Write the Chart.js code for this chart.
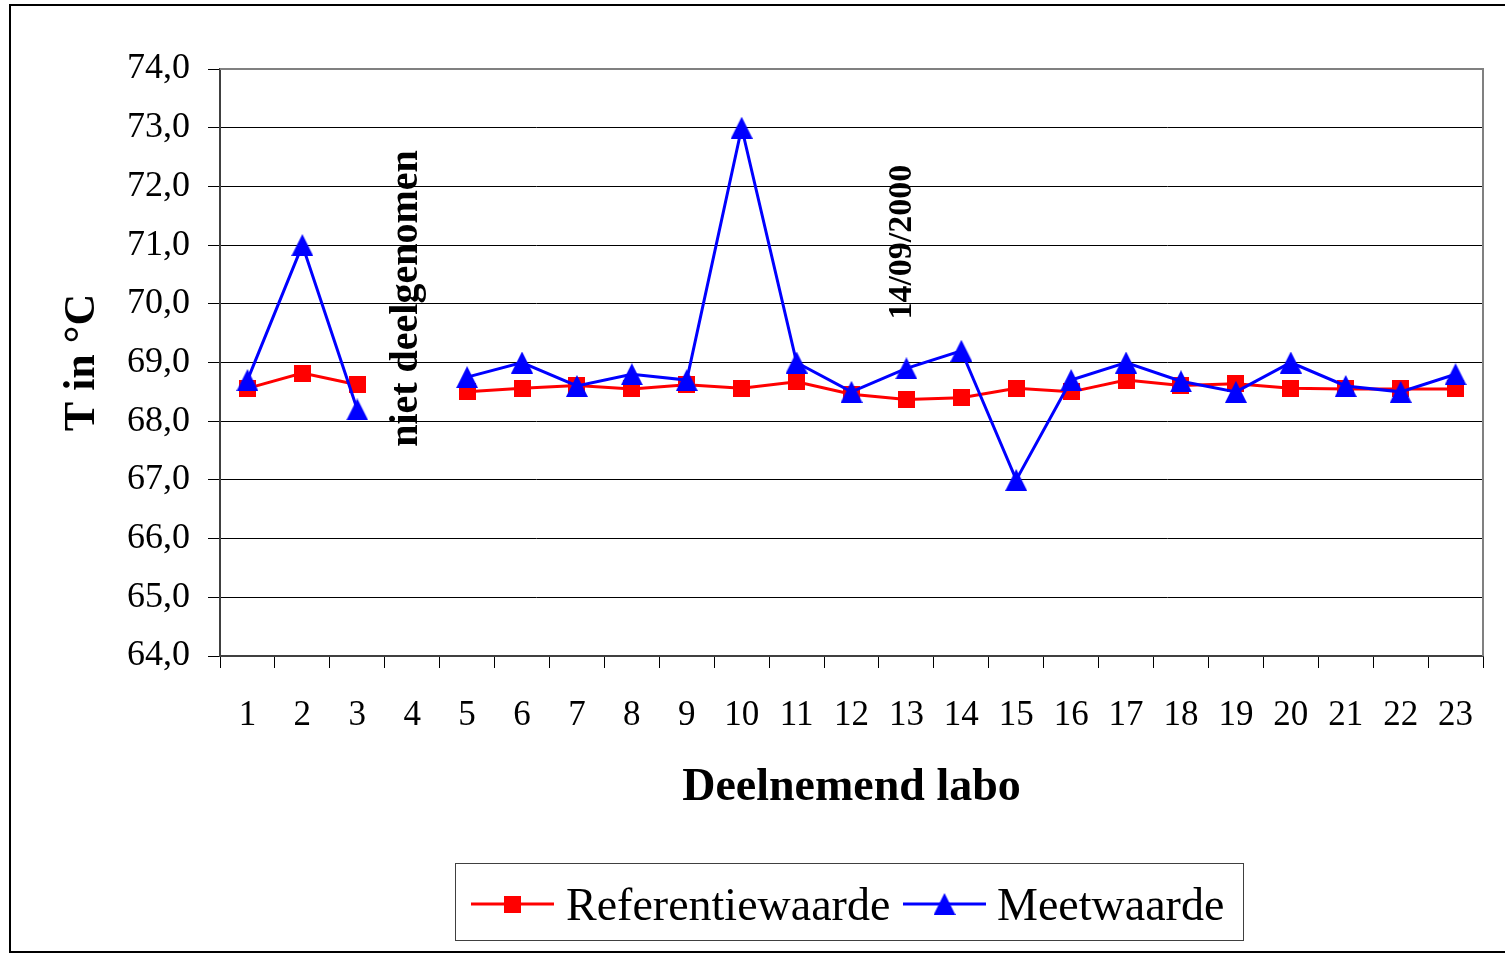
<!DOCTYPE html>
<html>
<head>
<meta charset="utf-8">
<script src="https://cdn.jsdelivr.net/npm/chart.js@4.4.0/dist/chart.umd.min.js"></script>
<style>
  html, body { margin: 0; padding: 0; background: #fff; }
  #chart { display: block; }
</style>
</head>
<body>
<canvas id="chart" width="1505" height="953"></canvas>
<script>
/* ================= DATA ================= */
const labos = ["1","2","3","4","5","6","7","8","9","10","11","12","13","14","15","16","17","18","19","20","21","22","23"];
const referentiewaarde = [68.56, 68.82, 68.62, null, 68.50, 68.56, 68.61, 68.55, 68.62, 68.56, 68.67, 68.46,
                          68.37, 68.40, 68.56, 68.50, 68.70, 68.61, 68.64, 68.56, 68.55, 68.55, 68.55];
const meetwaarde = [68.70, 71.00, 68.20, null, 68.75, 69.00, 68.60, 68.80, 68.70, 73.00, 69.00, 68.50,
                    68.90, 69.20, 67.00, 68.70, 69.00, 68.68, 68.50, 69.00, 68.60, 68.50, 68.80];
const yMin = 64, yMax = 74, yStep = 1;

const SERIF = "'Liberation Serif', 'Times New Roman', serif";
const RED = "#ff0000", BLUE = "#0000ff";

/* ================= MARKERS ================= */
function squareMarker(color, size) {
  const c = document.createElement("canvas");
  c.width = size; c.height = size;
  const g = c.getContext("2d");
  g.fillStyle = color;
  g.fillRect(0, 0, size, size);
  return c;
}
function triangleMarker(color, w, h) {
  const c = document.createElement("canvas");
  c.width = w; c.height = h;
  const g = c.getContext("2d");
  g.fillStyle = color;
  g.beginPath();
  g.moveTo(w / 2, 0);
  g.lineTo(w, h);
  g.lineTo(0, h);
  g.closePath();
  g.fill();
  return c;
}
const redSquare = squareMarker(RED, 17);
const blueTriangle = triangleMarker(BLUE, 22, 22);

/* ================= EXTRA DRAWING ================= */
const decor = {
  id: "decor",
  beforeDraw(chart) {
    const ctx = chart.ctx;
    ctx.save();
    ctx.fillStyle = "#fff";
    ctx.fillRect(0, 0, chart.width, chart.height);
    ctx.restore();
  },
  afterDraw(chart) {
    const ctx = chart.ctx;
    const a = chart.chartArea;
    const x = chart.scales.x, y = chart.scales.y;
    ctx.save();

    // plot area border (top + right)
    ctx.strokeStyle = "#808080";
    ctx.lineWidth = 2;
    ctx.beginPath();
    ctx.moveTo(a.left, a.top);
    ctx.lineTo(a.right, a.top);
    ctx.lineTo(a.right, a.bottom);
    ctx.stroke();

    // outer frame
    ctx.strokeStyle = "#000";
    ctx.lineWidth = 2;
    ctx.strokeRect(10, 5, chart.width + 20, 947);

    // vertical notes
    ctx.fillStyle = "#000";
    ctx.textAlign = "center";
    ctx.textBaseline = "middle";
    ctx.font = "bold 40px " + SERIF;
    ctx.save();
    ctx.translate(x.getPixelForValue(3) - 6, y.getPixelForValue(70.09));
    ctx.rotate(-Math.PI / 2);
    ctx.fillText("niet deelgenomen", 0, 0);
    ctx.restore();

    ctx.font = "bold 34px " + SERIF;
    ctx.save();
    ctx.translate(x.getPixelForValue(12) - 4, y.getPixelForValue(71.05));
    ctx.rotate(-Math.PI / 2);
    ctx.fillText("14/09/2000", 0, 0);
    ctx.restore();

    // legend
    const bx = 455, by = 863, bw = 788, bh = 77;
    ctx.strokeStyle = "#404040";
    ctx.lineWidth = 1;
    ctx.strokeRect(bx + 0.5, by + 0.5, bw, bh);
    const ly = 904;
    const items = [
      { ds: chart.data.datasets[0], x0: 471, x1: 554, tx: 566 },
      { ds: chart.data.datasets[1], x0: 903, x1: 986, tx: 997 }
    ];
    ctx.font = "46px " + SERIF;
    ctx.textAlign = "left";
    ctx.textBaseline = "alphabetic";
    items.forEach(it => {
      ctx.strokeStyle = it.ds.borderColor;
      ctx.lineWidth = 3;
      ctx.beginPath();
      ctx.moveTo(it.x0, ly);
      ctx.lineTo(it.x1, ly);
      ctx.stroke();
      const m = it.ds.pointStyle;
      const mx = (it.x0 + it.x1) / 2;
      ctx.drawImage(m, mx - m.width / 2, ly - m.height / 2);
      ctx.fillStyle = "#000";
      ctx.fillText(it.ds.label, it.tx, 920);
    });

    ctx.restore();
  }
};

/* ================= CHART ================= */
new Chart(document.getElementById("chart"), {
  type: "line",
  data: {
    labels: labos,
    datasets: [
      {
        label: "Referentiewaarde",
        data: referentiewaarde,
        borderColor: RED,
        backgroundColor: RED,
        borderWidth: 3,
        pointStyle: redSquare,
        spanGaps: false,
        tension: 0,
        order: 1
      },
      {
        label: "Meetwaarde",
        data: meetwaarde,
        borderColor: BLUE,
        backgroundColor: BLUE,
        borderWidth: 3,
        pointStyle: blueTriangle,
        spanGaps: false,
        tension: 0,
        order: 0
      }
    ]
  },
  options: {
    responsive: false,
    animation: false,
    devicePixelRatio: 1,
    events: [],
    layout: { padding: { top: 69, right: 22, left: 0, bottom: 133 } },
    plugins: {
      legend: { display: false },
      tooltip: { enabled: false }
    },
    scales: {
      x: {
        type: "category",
        offset: true,
        grid: { offset: true, drawOnChartArea: false, drawTicks: true, tickLength: 12, color: "#000", lineWidth: 1 },
        border: { display: true, color: "#404040", width: 2 },
        ticks: { font: { family: SERIF, size: 35 }, color: "#000", padding: 27, maxRotation: 0, autoSkip: false },
        title: {
          display: true, text: "Deelnemend labo", color: "#000",
          font: { family: SERIF, size: 46, weight: "bold" },
          padding: { top: 0, bottom: 4 }
        },
        afterFit(s) { s.height = 164; }
      },
      y: {
        min: yMin,
        max: yMax,
        ticks: {
          stepSize: yStep,
          callback: v => v.toFixed(1).replace(".", ","),
          font: { family: SERIF, size: 36 }, color: "#000", padding: 18
        },
        grid: { color: "#000", lineWidth: 1, tickLength: 12, drawTicks: true },
        border: { display: true, color: "#404040", width: 2 },
        title: {
          display: true, text: "T in °C", color: "#000",
          font: { family: SERIF, size: 44, weight: "bold" },
          padding: { top: 56, bottom: 0 }
        },
        afterFit(s) { s.width = 220; }
      }
    }
  },
  plugins: [decor]
});
</script>
</body>
</html>
